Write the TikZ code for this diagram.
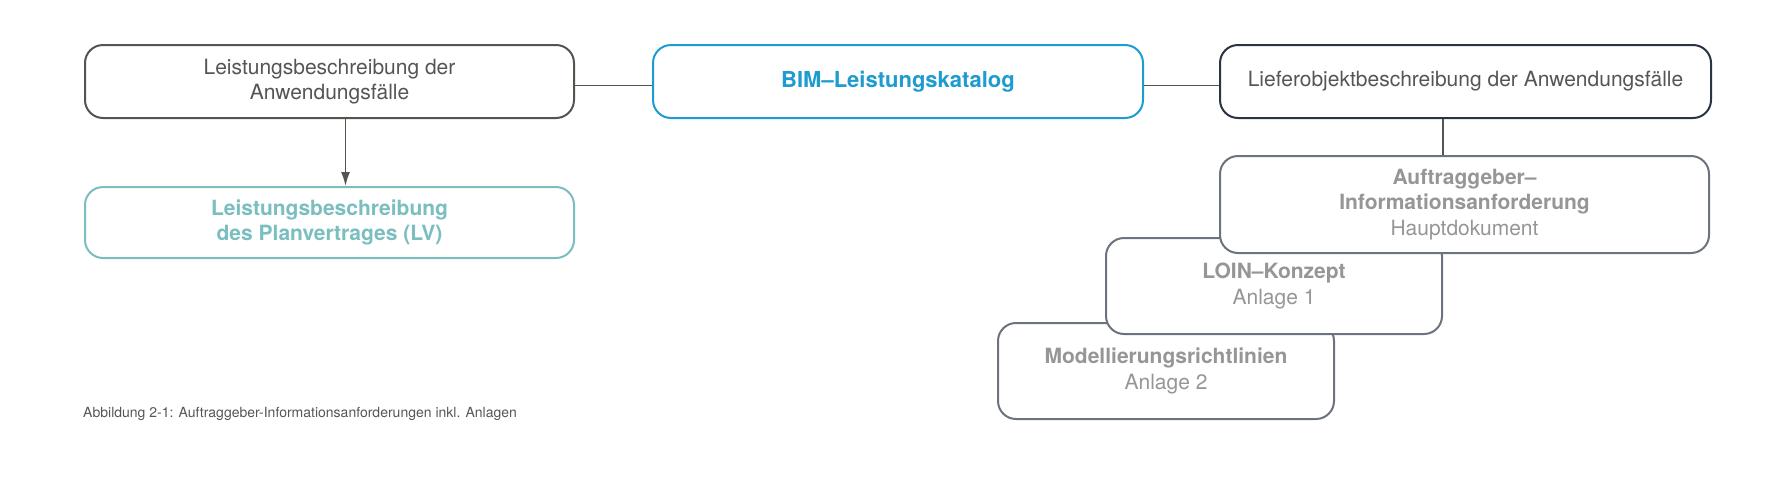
\documentclass[tikz,border=0pt]{standalone}
\usepackage{fontspec}
\setmainfont{TeX Gyre Heros}
\usepackage{tikz}
\usetikzlibrary{arrows.meta,positioning}
\definecolor{linegray}{RGB}{85,85,80}
\definecolor{textgray}{RGB}{85,85,85}
\definecolor{bimblue}{RGB}{30,156,208}
\definecolor{navyline}{RGB}{42,52,68}
\definecolor{lvteal}{RGB}{122,190,192}
\definecolor{slateline}{RGB}{108,114,126}
\definecolor{docgray}{RGB}{150,150,150}
\tikzset{
  katbox/.style={draw,fill=white,line width=2pt,rounded corners=18pt,
    minimum width=489pt,minimum height=73pt,align=center,inner sep=0pt,
    font=\fontsize{21}{25.5}\selectfont},
  docbox/.style={katbox,draw=slateline,text=docgray,minimum width=336pt,
    minimum height=96pt},
  katline/.style={line width=1.5pt,draw=linegray},
  katarrow/.style={-{Latex[length=14pt,width=9pt]},line width=1.5pt,draw=linegray},
}
\begin{document}
\begin{tikzpicture}[x=1pt,y=-1pt]
        \useasboundingbox (0,0) rectangle (1779,488);
        \node[katbox,draw=linegray,text=textgray] (lbanw) at (329.5,81.5)
          {Leistungsbeschreibung der\\Anwendungsfälle};
        \node[katbox,draw=lvteal,text=lvteal,minimum height=71pt] (lv) at (329.5,222.5)
          {\bfseries Leistungsbeschreibung\\\bfseries des Planvertrages (LV)};
        \node[katbox,draw=bimblue,text=bimblue,minimum width=490pt,
          font=\fontsize{22}{26}\selectfont] (bim) at (898,81.5)
          {\bfseries BIM–Leistungskatalog};
        \node[katbox,draw=navyline,text=textgray,minimum width=491pt] (liefer) at (1465.5,81.5)
          {Lieferobjektbeschreibung der Anwendungsfälle};
        % stacked documents, lowest first
        \node[docbox] (modell) at (1166,371)
          {\bfseries Modellierungsrichtlinien\\Anlage 2};
        \node[docbox] (loin) at (1274,286)
          {\bfseries LOIN–Konzept\\Anlage 1};
        \node[docbox,minimum width=489pt,minimum height=97pt] (aia) at (1464.5,204.5)
          {\bfseries Auftraggeber–\\\bfseries Informationsanforderung\\Hauptdokument};
        \draw[katline] ([yshift=-4pt]lbanw.east) -- ([yshift=-4pt]bim.west);
        \draw[katline] ([yshift=-4pt]bim.east) -- ([yshift=-4pt]liefer.west);
        \draw[katline] (liefer.south -| loin.east) -- (aia.north -| loin.east);
        \draw[katarrow] ([xshift=16pt]lbanw.south) -- ([xshift=16pt]lv.north);
        \node[anchor=west,text=textgray,font=\fontsize{14}{16}\selectfont,inner sep=0pt]
          (caption) at (83,414) {Abbildung 2-1: Auftraggeber-Informationsanforderungen inkl. Anlagen};
      \end{tikzpicture}
\end{document}
